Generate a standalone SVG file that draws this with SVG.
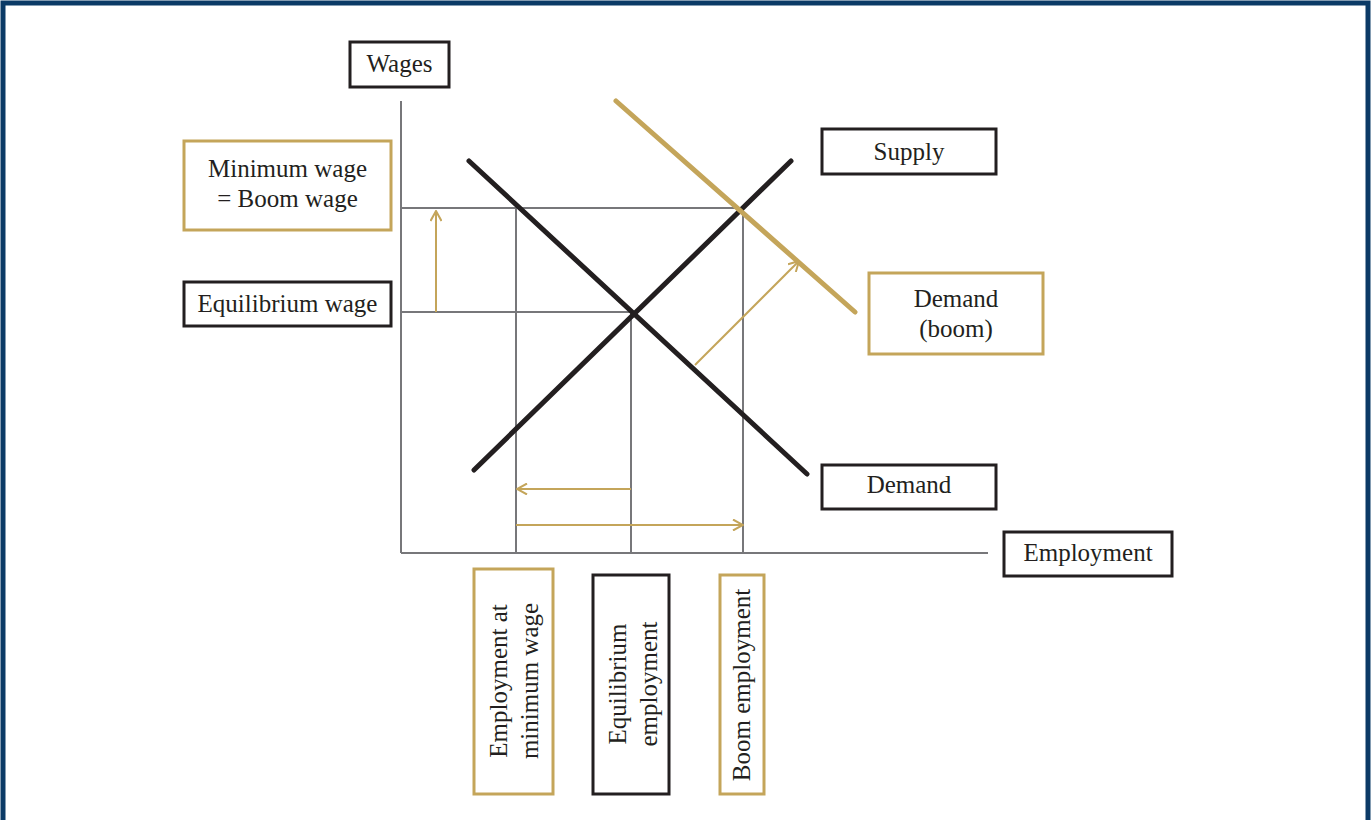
<svg xmlns="http://www.w3.org/2000/svg" width="1371" height="820" viewBox="0 0 1371 820">
<defs>
<style>
.t{font-family:"Liberation Serif","Times New Roman",serif;font-size:25px;fill:#231f20;text-anchor:middle}
.bk{fill:#fff;stroke:#231f20;stroke-width:3}
.gd{fill:#fff;stroke:#c4a55a;stroke-width:3}
.ax{stroke:#77777a;stroke-width:2;fill:none}
.cv{stroke:#231f20;stroke-width:5;stroke-linecap:round;fill:none}
.cg{stroke:#c4a55a;stroke-width:5;stroke-linecap:round;fill:none}
.ar{stroke:#c4a55a;stroke-width:2;fill:none}
</style>
<marker id="ah" viewBox="0 0 12 12" refX="11" refY="6" markerWidth="12" markerHeight="12" markerUnits="userSpaceOnUse" orient="auto">
<path d="M1,0.5 L11,6 L1,11.5" fill="none" stroke="#c4a55a" stroke-width="2"/>
</marker>
</defs>
<rect x="0" y="0" width="1371" height="820" fill="#fff"/>
<path d="M3,820 V3 H1368 V820" fill="none" stroke="#0b3a66" stroke-width="5"/>

<g id="connectors">
<line class="ax" x1="401" y1="101" x2="401" y2="553"/>
<line class="ax" x1="401" y1="553" x2="988" y2="553"/>
<line class="ax" x1="401" y1="208" x2="743" y2="208"/>
<line class="ax" x1="401" y1="312" x2="631" y2="312"/>
<line class="ax" x1="516" y1="208" x2="516" y2="553"/>
<line class="ax" x1="631" y1="312" x2="631" y2="553"/>
<line class="ax" x1="743" y1="208" x2="743" y2="553"/>
<line class="cv" x1="469" y1="161" x2="807" y2="474"/>
<line class="cv" x1="474" y1="470" x2="791" y2="161"/>
<line class="cg" x1="616" y1="101" x2="855" y2="312"/>
<line class="ar" x1="436" y1="312" x2="436" y2="211" marker-end="url(#ah)"/>
<line class="ar" x1="695" y1="365" x2="799" y2="261" marker-end="url(#ah)"/>
<line class="ar" x1="631" y1="489" x2="517" y2="489" marker-end="url(#ah)"/>
<line class="ar" x1="516" y1="525" x2="743" y2="525" marker-end="url(#ah)"/>
</g>

<g id="wages"><rect class="bk" x="350" y="42" width="99" height="45"/><text class="t" x="399.5" y="72">Wages</text></g>
<g id="minwage"><rect class="gd" x="184" y="141" width="207" height="89"/><text class="t" x="287.5" y="177">Minimum wage</text><text class="t" x="287.5" y="207">= Boom wage</text></g>
<g id="eqwage"><rect class="bk" x="184" y="282" width="207" height="44"/><text class="t" x="287.5" y="312">Equilibrium wage</text></g>
<g id="supply"><rect class="bk" x="822" y="129" width="174" height="45"/><text class="t" x="909" y="160">Supply</text></g>
<g id="demandboom"><rect class="gd" x="869" y="273" width="174" height="81"/><text class="t" x="956" y="307">Demand</text><text class="t" x="956" y="337">(boom)</text></g>
<g id="demand"><rect class="bk" x="822" y="465" width="174" height="44"/><text class="t" x="909" y="493">Demand</text></g>
<g id="employment"><rect class="bk" x="1004" y="532" width="168" height="44"/><text class="t" x="1088" y="561">Employment</text></g>
<g id="empmin"><rect class="gd" x="474" y="569" width="79" height="225"/><g transform="translate(513,681) rotate(-90)"><text class="t" x="0" y="-6">Employment at</text><text class="t" x="0" y="25">minimum wage</text></g></g>
<g id="eqemp"><rect class="bk" x="593" y="575" width="76" height="219"/><g transform="translate(631,684) rotate(-90)"><text class="t" x="0" y="-5">Equilibrium</text><text class="t" x="0" y="26">employment</text></g></g>
<g id="boomemp"><rect class="gd" x="720" y="575" width="44" height="219"/><g transform="translate(742,685) rotate(-90)"><text class="t" x="0" y="8">Boom employment</text></g></g>
</svg>
